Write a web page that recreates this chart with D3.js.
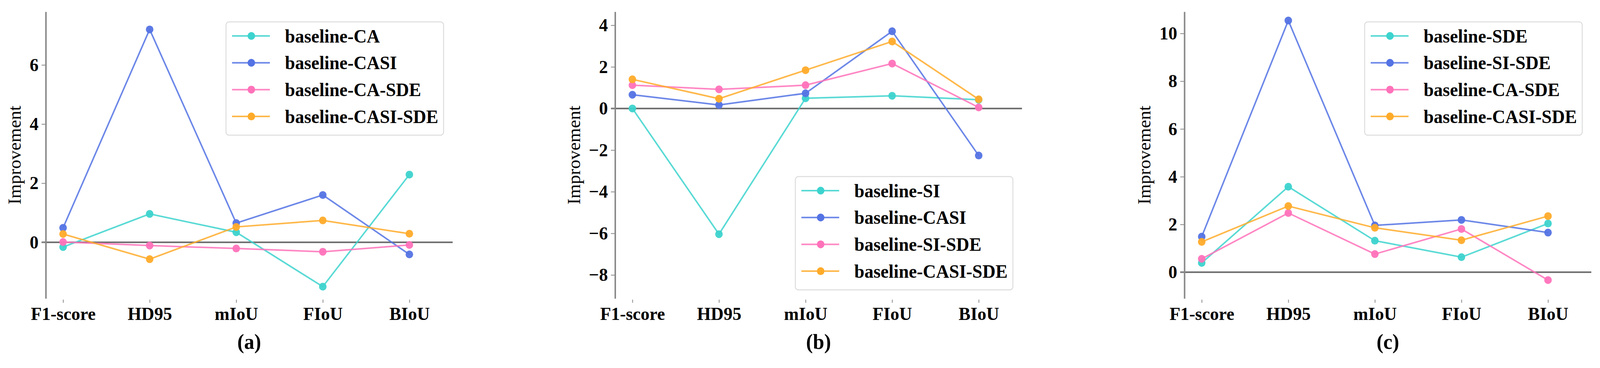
<!DOCTYPE html>
<html>
<head>
<meta charset="utf-8">
<script src="https://cdn.jsdelivr.net/npm/d3@7"></script>
<style>
  html, body { margin: 0; padding: 0; background: #fff; overflow: hidden; }
  svg { display: block; }
  .tickText { font-family: "Liberation Serif", "Times New Roman", serif; font-weight: bold; font-size: 47px; fill: #000; }
</style>
</head>
<body>
<div id="chart"></div>
<script>
//Categories shared by the three panels
var metrics = ["F1-score", "HD95", "mIoU", "FIoU", "BIoU"];
var lineColors = ["#3dd3ce", "#5473e4", "#ff72ba", "#ffab2a"];

//Panel (a)
var namesA = ["baseline-CA", "baseline-CASI", "baseline-CA-SDE", "baseline-CASI-SDE"];
var valuesA = [
  [-0.16, 0.96, 0.34, -1.50, 2.29],
  [0.49, 7.20, 0.65, 1.60, -0.41],
  [0.01, -0.11, -0.21, -0.32, -0.09],
  [0.28, -0.57, 0.52, 0.74, 0.29]
];
var ticksA = [0, 2, 4, 6];
var limitsA = [-1.90, 7.80];

//Panel (b)
var namesB = ["baseline-SI", "baseline-CASI", "baseline-SI-SDE", "baseline-CASI-SDE"];
var valuesB = [
  [0.00, -6.04, 0.49, 0.61, 0.42],
  [0.66, 0.17, 0.73, 3.71, -2.26],
  [1.12, 0.92, 1.12, 2.16, 0.05],
  [1.40, 0.47, 1.84, 3.22, 0.44]
];
var ticksB = [-8, -6, -4, -2, 0, 2, 4];
var limitsB = [-9.13, 4.65];

//Panel (c)
var namesC = ["baseline-SDE", "baseline-SI-SDE", "baseline-CA-SDE", "baseline-CASI-SDE"];
var valuesC = [
  [0.39, 3.58, 1.32, 0.63, 2.04],
  [1.49, 10.54, 1.96, 2.19, 1.66],
  [0.56, 2.48, 0.76, 1.81, -0.33],
  [1.27, 2.77, 1.86, 1.34, 2.35]
];
var ticksC = [0, 2, 4, 6, 8, 10];
var limitsC = [-1.10, 10.91];

var panelLabels = ["(a)", "(b)", "(c)"];

//Drawing is done in a 4231x942 space and scaled to the window
var width = 4231;
var height = 942;
var firstLeft = 121;
var panelStep = 1505.5;
var plotWidth = 1076;
var plotTop = 30;
var plotBottom = 764;

var svg = d3
  .select("#chart")
  .append("svg")
  .attr("width", window.innerWidth || width)
  .attr("height", window.innerHeight || height)
  .attr("viewBox", "0 0 " + width + " " + height)
  .attr("preserveAspectRatio", "none");

var panels = [
  { names: namesA, values: valuesA, ticks: ticksA, limits: limitsA, legend: "upper" },
  { names: namesB, values: valuesB, ticks: ticksB, limits: limitsB, legend: "lower" },
  { names: namesC, values: valuesC, ticks: ticksC, limits: limitsC, legend: "upper" }
];

panels.forEach(function(p, k) {
  var left = firstLeft + k * panelStep;
  var right = left + plotWidth;
  var g = svg.append("g").attr("class", "panel");

  var xScale = d3.scaleLinear().domain([-0.2, 4.5]).range([left, right]);
  var yScale = d3.scaleLinear().domain(p.limits).range([plotBottom, plotTop]);

  //zero reference line
  g.append("line")
    .attr("x1", left - 11)
    .attr("x2", right)
    .attr("y1", yScale(0))
    .attr("y2", yScale(0))
    .style("stroke", "#6b6b6b")
    .style("stroke-width", 4);

  //Y axis with the left spine
  var yAxis = d3.axisLeft(yScale)
    .tickValues(p.ticks)
    .tickSize(11)
    .tickSizeOuter(0)
    .tickPadding(8)
    .tickFormat(d3.format("d"));

  var yG = g.append("g")
    .attr("transform", "translate(" + left + ",0)")
    .call(yAxis);
  yG.select(".domain").style("stroke", "#888").style("stroke-width", 4);
  yG.selectAll(".tick line").style("stroke", "#888").style("stroke-width", 2);
  yG.selectAll(".tick text").attr("class", "tickText");
  yG.attr("font-size", null).attr("font-family", null);

  //X axis has ticks and labels only
  var xAxis = d3.axisBottom(xScale)
    .tickValues(d3.range(metrics.length))
    .tickSize(8)
    .tickPadding(11)
    .tickFormat(function(i) { return metrics[i]; });

  var xG = g.append("g")
    .attr("transform", "translate(0," + (plotBottom + 3) + ")")
    .call(xAxis);
  xG.select(".domain").remove();
  xG.selectAll(".tick line").style("stroke", "#888").style("stroke-width", 2);
  xG.selectAll(".tick text").attr("class", "tickText");
  xG.attr("font-size", null).attr("font-family", null);

  //Y label placed left of the widest tick label
  var minX = d3.min(yG.selectAll(".tick text").nodes(), function(n) {
    return left + n.getBBox().x - 8;
  });
  g.append("text")
    .attr("transform", "translate(" + (minX - 32) + "," + ((plotTop + plotBottom) / 2) + ")rotate(-90)")
    .attr("text-anchor", "middle")
    .attr("dy", "0.35em")
    .style("font-family", "'Liberation Serif', 'Times New Roman', serif")
    .style("font-size", "47px")
    .text("Improvement");

  //Series lines and dots
  var line = d3.line()
    .x(function(d, i) { return xScale(i); })
    .y(function(d) { return yScale(d); });

  p.values.forEach(function(vals, s) {
    g.append("path")
      .datum(vals)
      .attr("d", line)
      .style("fill", "none")
      .style("stroke", lineColors[s])
      .style("stroke-width", 4)
      .style("stroke-opacity", 0.85);

    g.selectAll(".dot" + s)
      .data(vals)
      .enter()
      .append("circle")
      .attr("class", "dot" + s)
      .attr("cx", function(d, i) { return xScale(i); })
      .attr("cy", function(d) { return yScale(d); })
      .attr("r", 10)
      .style("fill", lineColors[s])
      .style("fill-opacity", 0.95);
  });

  //Legend box
  var legG = g.append("g");
  var box = legG.append("rect")
    .attr("rx", 8)
    .attr("ry", 8)
    .style("fill", "#fff")
    .style("fill-opacity", 0.85)
    .style("stroke", "#dcdcdc")
    .style("stroke-width", 2.5);

  var rowGap = 68.7;
  var boxH = 290;
  var texts = [];
  p.names.forEach(function(name, s) {
    var yy = 36 + s * rowGap;
    legG.append("line")
      .attr("x1", 16).attr("x2", 116)
      .attr("y1", yy).attr("y2", yy)
      .style("stroke", lineColors[s])
      .style("stroke-width", 4)
      .style("stroke-opacity", 0.85);
    legG.append("circle")
      .attr("cx", 67).attr("cy", yy).attr("r", 10)
      .style("fill", lineColors[s]);
    texts.push(legG.append("text")
      .attr("x", 156).attr("y", yy)
      .attr("dy", "0.35em")
      .attr("class", "tickText")
      .style("font-size", "48px")
      .text(name));
  });

  var textW = d3.max(texts, function(t) { return t.node().getComputedTextLength(); });
  var boxW = 156 + textW + 14;
  box.attr("width", boxW).attr("height", boxH);

  var legX = right - 24 - boxW;
  var legY = p.legend === "upper" ? plotTop + 26 : plotBottom - 22 - boxH;
  legG.attr("transform", "translate(" + legX + "," + legY + ")");

  //Panel caption
  g.append("text")
    .attr("x", (left + right) / 2)
    .attr("y", 893)
    .attr("text-anchor", "middle")
    .attr("class", "tickText")
    .style("font-size", "54px")
    .text(panelLabels[k]);
});
</script>
</body>
</html>
